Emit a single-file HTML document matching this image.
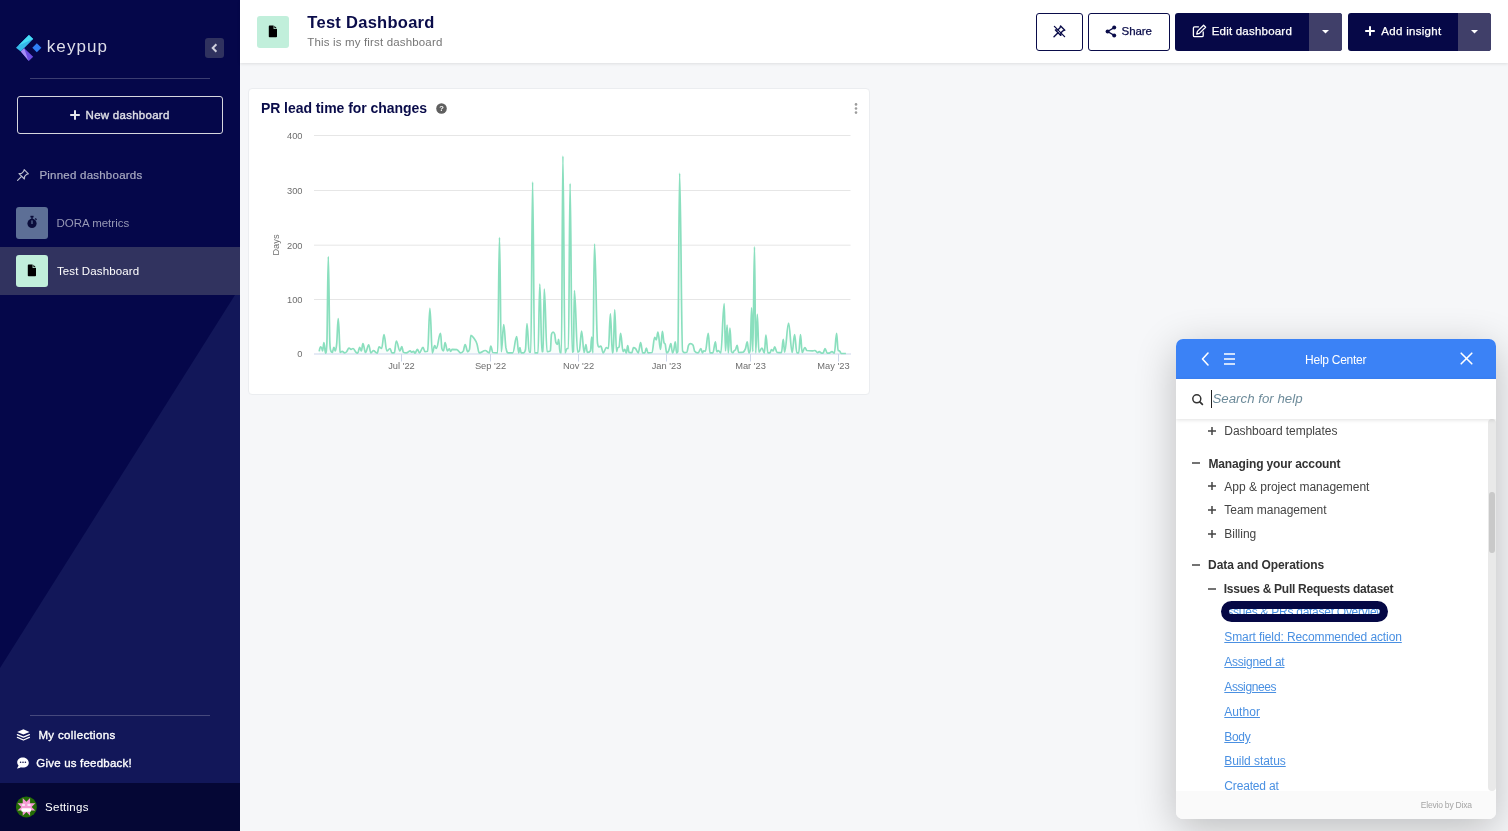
<!DOCTYPE html>
<html lang="en"><head><meta charset="utf-8"><title>Test Dashboard</title>
<style>
*{box-sizing:border-box;margin:0;padding:0}
html,body{width:1508px;height:831px;overflow:hidden}
body{font-family:"Liberation Sans",sans-serif;background:#f6f7f9;position:relative;color:#0a0c4a}
.abs{position:absolute}
.t{position:absolute;white-space:nowrap;line-height:1}
/* sidebar */
#side{position:absolute;left:0;top:0;width:240px;height:831px;background:#05074a;overflow:hidden}
#side .tri{position:absolute;left:0;top:0}
.divider{position:absolute;left:30px;width:180px;height:1px;background:rgba(255,255,255,.22)}
#newdash{position:absolute;left:17px;top:96px;width:206px;height:38px;border:1px solid #d6d6de;border-radius:3px}
.row-sel{position:absolute;left:0;top:247px;width:240px;height:48px;background:#31335f}
.ibox{position:absolute;width:32px;height:32px;border-radius:3px}
#settings{position:absolute;left:0;top:783px;width:240px;height:48px;background:#050735}
/* header */
#head{position:absolute;left:240px;top:0;width:1268px;height:63px;background:#fff;box-shadow:0 1px 3px rgba(0,0,0,.10)}
.btn{position:absolute;top:13px;height:38px;border-radius:3px}
.btn.o{border:1px solid #0a0c4a;background:#fff}
.btn.f{background:#060847}
.btn .dd{position:absolute;right:0;top:0;height:38px;width:33px;background:#403f69;border-radius:0 3px 3px 0}
/* card */
#card{position:absolute;left:248px;top:88px;width:622px;height:307px;background:#fff;border:1px solid #ebedf0;border-radius:4px}
/* help */
#help{position:absolute;left:1176px;top:339px;width:320px;height:480px;background:#fff;border-radius:7px;box-shadow:0 10px 40px rgba(0,0,0,.24);overflow:hidden;font-family:"Liberation Sans",sans-serif}
#help .hh{position:absolute;left:0;top:0;width:320px;height:40px;background:#3b82f6}
#help .search{position:absolute;left:0;top:40px;width:320px;height:40px;background:#fff;box-shadow:0 1px 4px rgba(0,0,0,.12);z-index:2}
#help .foot{position:absolute;left:0;top:452px;width:320px;height:28px;background:#fafafa;z-index:2}
#help .track{position:absolute;left:312px;top:80px;width:8px;height:372px;background:#e9e9e9;border-radius:4px}
#help .thumb{position:absolute;left:313px;top:153px;width:6px;height:61px;background:#c9c9c9;border-radius:3px}
.hl{position:absolute;white-space:nowrap;line-height:1;font-size:12.5px;color:#444}
.hl.b{font-weight:bold;color:#333}
.hl.a{color:#4a90e2;text-decoration:underline}
#logo-t{left:46.8px!important;top:38.00px!important;font-size:17px!important;letter-spacing:1.074px!important}
#nd-t{left:85.6px!important;top:110.00px!important;font-size:11.5px!important;letter-spacing:0.261px!important}
#pin-t{left:39.4px!important;top:170.00px!important;font-size:11.5px!important;letter-spacing:0.231px!important}
#dora-t{left:56.4px!important;top:218.00px!important;font-size:11.5px!important;letter-spacing:-0.004px!important}
#td-t{left:56.9px!important;top:266.00px!important;font-size:11.5px!important;letter-spacing:0.135px!important}
#mc-t{left:38.4px!important;top:730.00px!important;font-size:11.5px!important;letter-spacing:0.352px!important}
#fb-t{left:36.3px!important;top:758.00px!important;font-size:11.5px!important;letter-spacing:0.202px!important}
#st-t{left:45.1px!important;top:802.00px!important;font-size:11.5px!important;letter-spacing:0.248px!important}
#h-title{left:307.3px!important;top:14.00px!important;font-size:16.5px!important;letter-spacing:0.279px!important}
#h-sub{left:307.3px!important;top:37.00px!important;font-size:11.5px!important;letter-spacing:0.159px!important}
#b-share{left:1121.6px!important;top:26.00px!important;font-size:11.5px!important;letter-spacing:-0.097px!important}
#b-edit{left:1211.7px!important;top:26.00px!important;font-size:11.5px!important;letter-spacing:0.210px!important}
#b-add{left:1381.3px!important;top:26.00px!important;font-size:11.5px!important;letter-spacing:0.299px!important}
#c-title{left:260.9px!important;top:101.00px!important;font-size:14px!important;letter-spacing:-0.047px!important}
#hc-t{left:1305.1px!important;top:354.00px!important;font-size:12px!important;letter-spacing:-0.263px!important}
#hs-t{left:1212.5px!important;top:392.00px!important;font-size:13.25px!important;letter-spacing:0.010px!important}
#l1{left:1224.3px!important;top:425.00px!important;font-size:12px!important;letter-spacing:-0.054px!important}
#l2{left:1208.4px!important;top:458.00px!important;font-size:12px!important;letter-spacing:-0.129px!important}
#l3{left:1224.3px!important;top:481.00px!important;font-size:12px!important;letter-spacing:-0.014px!important}
#l4{left:1224.3px!important;top:504.00px!important;font-size:12px!important;letter-spacing:-0.038px!important}
#l5{left:1224.3px!important;top:528.00px!important;font-size:12px!important;letter-spacing:-0.003px!important}
#l6{left:1208.1px!important;top:559.00px!important;font-size:12px!important;letter-spacing:-0.076px!important}
#l7{left:1223.8px!important;top:583.00px!important;font-size:12px!important;letter-spacing:-0.266px!important}
#l8{left:1224.3px!important;top:606.00px!important;font-size:12px!important;letter-spacing:-0.264px!important}
#l9{left:1224.3px!important;top:631.00px!important;font-size:12px!important;letter-spacing:-0.105px!important}
#l10{left:1224.3px!important;top:656.00px!important;font-size:12px!important;letter-spacing:-0.232px!important}
#l11{left:1224.3px!important;top:681.00px!important;font-size:12px!important;letter-spacing:-0.397px!important}
#l12{left:1224.3px!important;top:706.00px!important;font-size:12px!important;letter-spacing:0.048px!important}
#l13{left:1224.3px!important;top:731.00px!important;font-size:12px!important;letter-spacing:-0.320px!important}
#l14{left:1224.3px!important;top:755.00px!important;font-size:12px!important;letter-spacing:-0.050px!important}
#l15{left:1224.3px!important;top:780.00px!important;font-size:12px!important;letter-spacing:-0.161px!important}
#ft-t{left:1420.8px!important;top:801.00px!important;font-size:8.5px!important;letter-spacing:-0.205px!important}
</style></head><body>

<div id="side">
 <svg class="tri" width="240" height="831"><polygon points="240,287 240,783 0,783 0,668" fill="#121759"/></svg>
 <!-- logo -->
 <svg class="abs" style="left:10px;top:28px" width="40" height="40" viewBox="10 28 40 40">
  <polygon points="15.98,47.69 28.96,34.93 33.19,39.09 20.8,51.49" fill="#35b9ea"/>
  <polygon points="28.96,34.93 33.19,39.09 18.4,45.4" fill="#46dcf6"/>
  <polygon points="20.8,51.49 24.22,48.28 33.19,56.81 28.82,60.97" fill="#6c4de2"/>
  <polygon points="20.8,51.49 24.22,48.28 27.6,58.6 28.82,60.97" fill="#a68ef6"/>
  <polygon points="32.32,47.84 36.84,43.32 41.36,47.84 36.84,52.36" fill="#2f80f7"/>
 </svg>
 <div class="t" id="logo-t" style="left:46px;top:36px;font-size:17px;color:#dedee9">keypup</div>
 <div class="abs" style="left:205px;top:38px;width:19px;height:20px;background:#30325f;border-radius:3px">
  <svg class="abs" style="left:0;top:0" width="19" height="20" viewBox="0 0 19 20"><path d="M11.4 6.200 L7.700 10 L11.4 13.800" fill="none" stroke="#cfcfdc" stroke-width="2" stroke-linecap="butt" stroke-linejoin="miter"/></svg>
 </div>
 <div class="divider" style="top:78px"></div>
 <div id="newdash"></div>
 <svg class="abs" style="left:69px;top:109px" width="12" height="12" viewBox="0 0 12 12"><path d="M6 1.2V10.8M1.2 6H10.8" stroke="#e4e4ea" stroke-width="2" fill="none"/></svg>
 <div class="t" id="nd-t" style="left:86px;top:108px;font-size:13px;color:#dedee6;-webkit-text-stroke:.4px #dedee6">New dashboard</div>

 <svg class="abs" style="left:16px;top:168px" width="14" height="14" viewBox="0 0 14 14"><g fill="none" stroke="#b9bbcc" stroke-width="1.2" stroke-linejoin="round" stroke-linecap="round"><path d="M8.2 1.6 L12.4 5.8 L10.6 6.4 L8.6 8.4 L8.4 11 L3 5.6 L5.6 5.4 L7.6 3.4 Z"/><path d="M5.6 8.4 L1.6 12.4"/></g></svg>
 <div class="t" id="pin-t" style="-webkit-text-stroke:.2px #a9abc2;left:39px;top:169px;font-size:13px;color:#a9abc2">Pinned dashboards</div>

 <div class="ibox" style="left:16px;top:207px;background:#5d6f96"></div>
 <svg class="abs" style="left:26px;top:215.400px" width="12" height="14" viewBox="0 0 12 14"><circle cx="6" cy="8.4" r="4.6" fill="#0a0c3a"/><rect x="4.4" y="0.8" width="3.2" height="1.6" fill="#0a0c3a"/><rect x="5.3" y="2" width="1.4" height="2.2" fill="#0a0c3a"/><path d="M9.2 3.6l1.4 1.2" stroke="#0a0c3a" stroke-width="1.3"/><rect x="5.4" y="5.4" width="1.2" height="3.6" fill="#5d6f96"/></svg>
 <div class="t" id="dora-t" style="left:56px;top:217px;font-size:13px;color:#9698b4">DORA metrics</div>

 <div class="row-sel"></div>
 <div class="ibox" style="left:16px;top:255px;background:#c1efdb"></div>
 <svg class="abs" style="left:27px;top:264px" width="10" height="13" viewBox="0 0 10 13"><path d="M0.8 1.4 Q0.8 0.6 1.6 0.6 H5.6 V4 H9 V11.4 Q9 12.2 8.2 12.2 H1.6 Q0.8 12.2 0.8 11.4 Z" fill="#000"/><path d="M6.4 0.8 L8.8 3.2 H6.4 Z" fill="#000"/></svg>
 <div class="t" id="td-t" style="left:56px;top:265px;font-size:13px;color:#fff">Test Dashboard</div>

 <div class="divider" style="top:715px"></div>
 <svg class="abs" style="left:16px;top:728px" width="15" height="14" viewBox="16 728 15 14"><path d="M23.400 729.200 L29.600 731.900 L23.400 734.600 L17.200 731.900 Z" fill="#fff"/><path d="M17.400 734.600 L23.400 737.200 L29.400 734.600 M17.400 737.400 L23.400 740 L29.400 737.400" fill="none" stroke="#fff" stroke-width="1.300" stroke-linejoin="round" stroke-linecap="round"/></svg>
 <div class="t" id="mc-t" style="left:38px;top:729px;font-size:13px;color:#fff;-webkit-text-stroke:.35px #fff">My collections</div>
 <svg class="abs" style="left:16px;top:756px" width="14" height="14" viewBox="0 0 14 14"><path d="M7 1.4C3.6 1.4 1.2 3.5 1.2 6.2c0 1.2.5 2.3 1.300 3.100C2.300 10.500 1.400 11.800 1 12.400c1.500.100 3-.400 3.800-1.100.7.200 1.400.300 2.200.300 3.400 0 5.800-2.100 5.800-4.800S10.400 1.400 7 1.400z" fill="#fff"/><circle cx="4.600" cy="6.300" r=".8" fill="#10154f"/><circle cx="7" cy="6.300" r=".8" fill="#10154f"/><circle cx="9.400" cy="6.300" r=".8" fill="#10154f"/></svg>
 <div class="t" id="fb-t" style="left:36px;top:757px;font-size:13px;color:#fff;-webkit-text-stroke:.35px #fff">Give us feedback!</div>

 <div id="settings"></div>
 <svg class="abs" style="left:14px;top:794px" width="26" height="26" viewBox="14 794 26 26"><circle cx="26.4" cy="806.9" r="10.5" fill="#236c05"/><polygon points="30.07,798.03 30.08,803.22 35.27,803.23 31.60,806.90 35.27,810.57 30.08,810.58 30.07,815.77 26.40,812.10 22.73,815.77 22.72,810.58 17.53,810.57 21.20,806.90 17.53,803.23 22.72,803.22 22.73,798.03 26.40,801.70" fill="#f49ad5"/><rect x="21.4" y="808.2" width="9.7" height="3.6" rx="1" fill="#fff"/><rect x="22.1" y="803.8" width="2.8" height="2.2" fill="#f7e6f2"/><rect x="27.5" y="803.8" width="3" height="2.2" fill="#f7e6f2"/></svg>
 <div class="t" id="st-t" style="left:45px;top:801px;font-size:13px;color:#fff">Settings</div>
</div>

<div id="head"></div>
<div class="ibox" style="left:257px;top:16px;background:#c1efdb"></div>
<svg class="abs" style="left:268px;top:25px" width="10" height="13" viewBox="0 0 10 13"><path d="M0.8 1.4 Q0.8 0.6 1.6 0.6 H5.6 V4 H9 V11.4 Q9 12.2 8.2 12.2 H1.6 Q0.8 12.2 0.8 11.4 Z" fill="#000"/><path d="M6.4 0.8 L8.8 3.2 H6.4 Z" fill="#000"/></svg>
<div class="t" id="h-title" style="left:307px;top:13px;font-size:17.500px;font-weight:bold;color:#0a0c4a">Test Dashboard</div>
<div class="t" id="h-sub" style="left:307px;top:36px;font-size:11.500px;color:#767676">This is my first dashboard</div>

<div class="btn o" style="left:1036px;width:47px"></div>
<svg class="abs" style="left:1052px;top:24px" width="15" height="15" viewBox="0 0 15 15"><g fill="none" stroke="#0a0c4a" stroke-width="1.400" stroke-linejoin="round" stroke-linecap="round"><path d="M8.600 2 L12.800 6.200 L11 6.800 L9 8.800 L8.800 11.400 L3.400 6 L6 5.800 L8 3.800 Z"/><path d="M6 8.800 L2 12.800"/><path d="M2.400 2.400 L12.600 12.600" stroke-width="1.300"/></g></svg>
<div class="btn o" style="left:1088px;width:82px"></div>
<svg class="abs" style="left:1105px;top:25px" width="12" height="13" viewBox="0 0 12 13"><g fill="#0a0c4a"><circle cx="9.200" cy="2.600" r="2"/><circle cx="2.600" cy="6.500" r="2"/><circle cx="9.200" cy="10.400" r="2"/></g><path d="M9.200 2.600 L2.600 6.500 L9.200 10.400" fill="none" stroke="#0a0c4a" stroke-width="1.300"/></svg>
<div class="t" id="b-share" style="-webkit-text-stroke:.25px #0a0c4a;left:1121px;top:25px;font-size:13px;color:#0a0c4a">Share</div>

<div class="btn f" style="left:1175px;width:167px"><div class="dd"></div></div>
<svg class="abs" style="left:1192px;top:24px" width="15" height="14" viewBox="0 0 15 14"><g fill="none" stroke="#fff" stroke-width="1.300" stroke-linejoin="round" stroke-linecap="round"><path d="M6.500 2.800 H2.600 Q1.400 2.800 1.400 4 V11.400 Q1.400 12.600 2.600 12.600 H10 Q11.200 12.600 11.200 11.400 V7.800"/><path d="M11.600 1.200 L13.600 3.200 L7.400 9.400 L4.800 10 L5.400 7.400 Z"/></g></svg>
<div class="t" id="b-edit" style="-webkit-text-stroke:.25px #fff;left:1211px;top:25px;font-size:13px;color:#fff">Edit dashboard</div>
<svg class="abs" style="left:1321px;top:29px" width="9" height="6" viewBox="0 0 9 6"><path d="M1 1 H8 L4.500 4.600 Z" fill="#fff"/></svg>

<div class="btn f" style="left:1348px;width:143px"><div class="dd"></div></div>
<svg class="abs" style="left:1364px;top:25px" width="12" height="12" viewBox="0 0 12 12"><path d="M6 1.200V10.800M1.200 6H10.800" stroke="#fff" stroke-width="2" fill="none"/></svg>
<div class="t" id="b-add" style="-webkit-text-stroke:.25px #fff;left:1381px;top:25px;font-size:13px;color:#fff">Add insight</div>
<svg class="abs" style="left:1470px;top:29px" width="9" height="6" viewBox="0 0 9 6"><path d="M1 1 H8 L4.500 4.600 Z" fill="#fff"/></svg>

<div id="card"></div>
<div class="t" id="c-title" style="left:260px;top:101px;font-size:15px;font-weight:bold;color:#0a0c4a">PR lead time for changes</div>
<svg class="abs" style="left:436px;top:103px" width="11" height="11" viewBox="0 0 11 11"><circle cx="5.500" cy="5.500" r="5.300" fill="#5f5f5f"/><text x="5.500" y="8.300" font-size="7.500" font-weight="bold" fill="#fff" text-anchor="middle" font-family="Liberation Sans, sans-serif">?</text></svg>
<svg class="abs" style="left:853px;top:102px" width="6" height="13" viewBox="0 0 6 13"><g fill="#9c9c9c"><circle cx="3" cy="2.400" r="1.300"/><circle cx="3" cy="6.500" r="1.300"/><circle cx="3" cy="10.600" r="1.300"/></g></svg>

<svg class="abs" id="chart" style="left:249px;top:89px" width="620" height="304" viewBox="249 89 620 304" font-family="Liberation Sans, sans-serif">
 <g stroke="#e6e6e6" stroke-width="1">
  <path d="M314 135.500H850.500M314 190.500H850.500M314 245.200H850.500M314 299.500H850.500"/>
 </g>
 <path d="M314 354H851" stroke="#ccd6eb" stroke-width="1.200"/>
 <path d="M401.500 354V361.500M490.500 354V361.500M578.500 354V361.500M666.500 354V361.500M750.500 354V361.500M838.500 354V361.500" stroke="#ccd6eb" stroke-width="1"/>
 <path d="M319.2 351.3C319.2 351.3 320.0 346.9 320.6 346.9C321.1 346.9 321.3 347.2 321.8 348.1C322.1 348.8 322.3 350.9 322.6 350.9C323.1 350.9 323.4 342.6 323.9 342.6C324.6 342.6 324.9 353.1 325.5 353.1C326.1 353.1 326.3 353.1 326.9 342.9C327.4 332.8 327.7 256.5 328.3 256.5C328.9 256.5 329.3 336.6 329.9 343.7C330.3 350.9 330.5 349.3 330.8 350.9C331.4 352.5 331.7 352.5 332.3 352.5C332.9 352.5 333.2 347.3 333.9 347.3C334.4 347.3 334.7 350.9 335.3 350.9C335.8 350.9 336.1 349.7 336.7 343.7C337.3 336.8 337.6 318.7 338.2 318.7C338.8 318.7 339.1 333.7 339.6 343.7C339.8 347.3 339.9 352.5 340.1 352.5C340.9 352.5 341.4 351.3 342.2 351.3C343.2 351.3 343.7 352.9 344.6 352.9C345.4 352.9 345.8 352.6 346.6 351.7C347.6 350.7 348.0 348.1 349.0 348.1C349.8 348.1 350.2 349.3 351.0 349.3C351.8 349.3 352.2 348.5 353.0 348.5C354.1 348.5 354.6 351.0 355.8 352.1C356.6 352.9 356.9 353.1 357.7 353.1C358.5 353.1 358.9 347.3 359.7 347.3C360.4 347.3 360.7 350.9 361.3 350.9C362.0 350.9 362.3 343.7 362.9 343.7C364.0 343.7 364.5 352.5 365.5 352.5C366.8 352.5 367.5 344.9 368.7 344.9C369.6 344.9 370.0 352.9 370.9 352.9C371.8 352.9 372.3 350.7 373.3 350.7C374.9 350.7 375.6 353.1 377.2 353.1C378.0 353.1 378.3 346.9 379.1 346.9C380.1 346.9 380.6 348.5 381.6 348.5C382.6 348.5 383.1 334.6 384.0 334.6C385.1 334.6 385.7 350.9 386.8 350.9C388.1 350.9 388.7 348.5 390.0 348.5C390.8 348.5 391.2 352.9 392.0 352.9C392.9 352.9 393.4 352.9 394.4 352.7C395.1 352.4 395.5 341.0 396.3 341.0C397.8 341.0 398.5 350.9 399.9 350.9C400.7 350.9 401.0 346.5 401.8 346.5C402.4 346.5 402.7 351.3 403.3 352.1C404.5 352.9 405.1 352.9 406.3 352.9C407.9 352.9 408.7 350.9 410.3 350.9C410.7 350.9 411.0 352.1 411.5 352.1C412.3 352.1 412.7 351.3 413.4 351.3C414.1 351.3 414.4 353.1 415.0 353.1C416.0 353.1 416.5 349.3 417.4 349.3C418.2 349.3 418.6 352.9 419.4 352.9C420.9 352.9 421.6 347.3 423.0 347.3C423.8 347.3 424.2 351.7 424.9 351.7C426.0 351.7 426.5 351.7 427.6 351.3C428.5 350.9 429.0 308.3 429.9 308.3C430.9 308.3 431.4 352.9 432.3 352.9C433.3 352.9 433.8 345.7 434.7 345.7C435.4 345.7 435.7 348.5 436.3 348.5C438.0 348.5 438.8 333.4 440.5 333.4C441.1 333.4 441.3 346.1 441.9 348.5C442.5 350.9 442.8 350.9 443.5 350.9C444.1 350.9 444.4 342.6 445.1 342.6C446.0 342.6 446.5 350.9 447.5 350.9C448.2 350.9 448.6 348.9 449.4 348.9C449.9 348.9 450.2 351.3 450.6 351.3C451.3 351.3 451.6 349.3 452.2 349.3C454.1 349.3 455.1 349.3 457.0 349.7C458.4 350.1 459.2 352.9 460.6 352.9C461.7 352.9 462.3 352.9 463.4 350.9C464.1 348.9 464.4 344.5 465.1 344.5C466.2 344.5 466.7 351.7 467.7 351.7C468.4 351.7 468.8 351.7 469.5 349.3C470.1 346.9 470.4 335.4 470.9 335.4C472.2 335.4 472.8 336.8 474.1 338.6C475.2 340.1 475.8 340.7 476.9 343.7C477.9 346.4 478.3 352.9 479.3 352.9C481.7 352.9 482.9 350.5 485.3 350.5C486.8 350.5 487.6 352.9 489.2 352.9C489.9 352.9 490.2 346.1 490.8 346.1C491.6 346.1 492.0 352.1 492.8 352.5C494.7 352.9 495.7 352.9 497.6 352.9C498.4 352.9 498.7 237.6 499.5 237.6C500.2 237.6 500.6 351.7 501.3 351.7C502.3 351.7 502.8 324.6 503.7 324.6C504.6 324.6 505.1 342.6 505.9 347.7C506.9 352.9 507.4 352.9 508.3 352.9C510.1 352.9 511.0 352.9 512.7 352.9C514.3 352.9 515.1 336.6 516.7 336.6C517.5 336.6 517.9 352.9 518.7 352.9C519.2 352.9 519.4 347.7 519.9 347.7C520.4 347.7 520.7 352.9 521.2 352.9C522.1 352.9 522.6 352.9 523.4 352.9C524.2 352.9 524.6 352.9 525.4 350.1C526.1 347.3 526.4 323.5 527.0 323.5C527.9 323.5 528.3 351.3 529.2 351.7C529.8 352.1 530.1 352.1 530.8 352.1C531.5 352.1 531.9 182.0 532.6 182.0C533.4 182.0 533.8 352.9 534.6 352.9C536.0 352.9 536.6 352.9 538.0 352.9C538.7 352.9 539.1 284.1 539.8 284.1C540.7 284.1 541.1 351.7 541.9 351.7C542.3 351.7 542.5 351.7 542.9 351.3C543.5 350.9 543.7 289.1 544.3 289.1C545.4 289.1 546.0 351.7 547.1 351.7C548.4 351.7 549.0 351.7 550.3 350.9C550.8 350.1 551.0 336.2 551.5 334.2C552.1 332.2 552.4 332.2 553.1 332.2C553.7 332.2 554.0 332.2 554.7 334.2C555.1 336.2 555.4 340.6 555.9 342.6C556.5 344.5 556.8 344.5 557.5 344.5C557.9 344.5 558.2 339.4 558.6 339.4C559.2 339.4 559.5 352.3 560.1 352.5C560.6 352.7 560.9 352.7 561.4 352.7C562.0 352.7 562.3 156.0 562.9 156.0C563.7 156.0 564.2 352.9 565.0 352.9C565.8 352.9 566.2 348.5 567.0 348.5C567.5 348.5 567.8 348.5 568.4 348.5C569.1 348.5 569.4 183.5 570.1 183.5C570.9 183.5 571.3 352.1 572.2 352.1C572.7 352.1 572.9 352.1 573.4 351.3C573.8 350.5 574.0 290.6 574.4 290.6C575.7 290.6 576.4 352.1 577.7 352.1C578.4 352.1 578.7 352.1 579.3 350.9C580.2 349.7 580.7 331.0 581.6 331.0C582.6 331.0 583.1 352.5 584.1 352.5C584.8 352.5 585.2 344.5 585.9 344.5C586.5 344.5 586.8 352.5 587.3 352.5C588.6 352.5 589.2 352.5 590.5 350.9C591.0 349.3 591.2 337.0 591.7 337.0C592.1 337.0 592.4 352.9 592.9 352.9C593.5 352.9 593.8 244.1 594.5 244.1C595.8 244.1 596.4 340.6 597.6 343.7C598.1 346.9 598.4 346.9 598.8 346.9C599.6 346.9 600.0 346.1 600.8 346.1C601.8 346.1 602.3 352.9 603.2 352.9C604.5 352.9 605.1 347.7 606.4 347.7C607.2 347.7 607.6 348.5 608.4 348.5C609.2 348.5 609.6 313.9 610.4 313.9C611.2 313.9 611.6 352.9 612.4 352.9C612.8 352.9 613.1 352.3 613.6 343.7C614.0 335.2 614.3 309.9 614.7 309.9C615.5 309.9 615.8 351.7 616.6 351.7C617.0 351.7 617.2 348.8 617.5 348.1C618.2 346.9 618.5 348.1 619.1 346.9C619.7 345.7 620.0 333.4 620.6 333.4C621.6 333.4 622.1 351.7 623.1 351.7C623.7 351.7 624.1 349.3 624.7 349.3C625.3 349.3 625.6 352.9 626.3 352.9C626.9 352.9 627.1 345.7 627.7 345.7C628.3 345.7 628.5 352.3 629.1 352.5C630.2 352.7 630.7 352.7 631.9 352.7C632.5 352.7 632.8 347.7 633.4 347.7C634.4 347.7 634.9 347.9 635.8 348.9C636.8 350.0 637.3 352.9 638.2 352.9C639.2 352.9 639.7 342.7 640.6 342.7C641.5 342.7 641.9 352.9 642.8 352.9C643.6 352.9 644.0 352.9 644.8 352.9C645.4 352.9 645.7 348.1 646.4 348.1C647.0 348.1 647.3 352.9 648.0 352.9C649.5 352.9 650.3 352.9 651.9 352.5C653.1 352.1 653.6 337.4 654.7 337.4C655.4 337.4 655.7 339.8 656.3 339.8C656.9 339.8 657.3 332.2 657.9 332.2C659.0 332.2 659.5 349.3 660.5 349.3C661.3 349.3 661.7 331.4 662.4 331.4C663.0 331.4 663.3 339.8 663.9 342.2C664.4 344.5 664.7 342.3 665.3 344.5C665.8 346.6 666.1 352.9 666.7 352.9C667.5 352.9 667.9 352.6 668.6 350.9C669.5 349.0 670.0 343.7 670.9 343.7C671.5 343.7 671.8 352.9 672.5 352.9C673.0 352.9 673.3 352.3 673.8 350.1C674.4 347.8 674.7 341.8 675.3 341.8C675.8 341.8 676.1 352.9 676.6 352.9C677.1 352.9 677.3 352.9 677.8 351.7C678.5 350.5 678.9 173.3 679.6 173.3C680.8 173.3 681.4 349.2 682.6 350.9C683.4 352.7 683.8 352.7 684.6 352.7C685.5 352.7 686.0 352.7 686.9 352.1C687.6 351.5 687.9 346.9 688.5 345.3C689.3 343.7 689.7 343.7 690.5 343.7C691.5 343.7 692.0 343.7 692.9 344.9C693.6 346.1 693.9 348.9 694.5 350.9C695.9 352.9 696.7 352.9 698.1 352.9C699.2 352.9 699.8 348.5 700.9 348.5C701.5 348.5 701.8 352.9 702.5 352.9C702.9 352.9 703.2 350.9 703.7 350.9C704.3 350.9 704.6 351.3 705.3 351.3C706.5 351.3 707.1 333.4 708.3 333.4C709.0 333.4 709.3 352.9 710.0 352.9C711.1 352.9 711.7 352.9 712.8 352.9C713.9 352.9 714.4 341.8 715.4 341.8C716.0 341.8 716.2 351.7 716.8 351.7C717.4 351.7 717.7 350.5 718.4 350.5C719.3 350.5 719.8 352.9 720.8 352.9C722.1 352.9 722.8 303.6 724.2 303.6C724.7 303.6 725.0 350.9 725.5 350.9C726.2 350.9 726.5 325.0 727.1 325.0C727.6 325.0 727.9 352.9 728.3 352.9C729.0 352.9 729.3 328.2 729.9 328.2C730.6 328.2 730.9 350.7 731.5 351.7C732.0 352.7 732.2 352.7 732.7 352.7C733.3 352.7 733.7 351.2 734.3 350.5C734.8 350.0 735.0 350.5 735.5 349.7C736.1 348.9 736.4 345.3 737.1 345.3C737.7 345.3 738.0 352.5 738.7 352.5C740.4 352.5 741.3 352.5 743.1 352.1C744.0 351.7 744.5 351.3 745.4 348.9C746.2 347.1 746.5 341.8 747.3 341.8C747.9 341.8 748.2 352.9 748.9 352.9C749.4 352.9 749.7 352.9 750.2 350.1C750.8 347.3 751.0 307.9 751.6 307.9C752.1 307.9 752.3 351.7 752.8 351.7C753.5 351.7 753.8 246.9 754.5 246.9C755.0 246.9 755.2 352.9 755.7 352.9C756.4 352.9 756.7 314.3 757.3 314.3C758.0 314.3 758.3 352.1 758.9 352.1C760.1 352.1 760.7 348.1 761.9 348.1C762.9 348.1 763.4 352.9 764.3 352.9C765.0 352.9 765.3 335.0 765.9 335.0C766.7 335.0 767.1 352.9 767.9 352.9C768.7 352.9 769.1 352.9 769.9 352.9C770.5 352.9 770.8 349.7 771.5 349.7C772.1 349.7 772.4 350.9 773.1 350.9C773.7 350.9 774.0 346.9 774.7 346.9C775.6 346.9 776.1 352.3 777.1 352.5C778.8 352.7 779.7 352.7 781.4 352.7C782.2 352.7 782.5 339.4 783.3 339.4C783.8 339.4 784.1 352.1 784.6 352.1C786.2 352.1 787.0 323.1 788.6 323.1C790.0 323.1 790.7 352.5 792.2 352.5C793.1 352.5 793.6 334.6 794.6 334.6C795.5 334.6 796.0 352.9 796.9 352.9C797.6 352.9 798.0 352.9 798.7 352.9C799.4 352.9 799.8 334.6 800.5 334.6C801.2 334.6 801.5 352.5 802.1 352.5C803.2 352.5 803.8 347.7 804.9 347.7C805.7 347.7 806.1 350.1 806.9 350.5C809.0 350.9 810.0 350.9 812.1 350.9C813.2 350.9 813.7 350.5 814.9 350.5C816.0 350.5 816.5 352.7 817.6 352.7C818.3 352.7 818.6 351.7 819.2 351.7C820.2 351.7 820.7 353.1 821.6 353.1C822.3 353.1 822.6 353.1 823.2 352.9C823.9 352.7 824.3 348.5 825.0 348.5C825.9 348.5 826.3 353.1 827.2 353.1C828.0 353.1 828.4 353.1 829.2 353.1C830.3 353.1 830.8 351.7 832.0 351.7C832.9 351.7 833.4 353.1 834.4 353.1C835.2 353.1 835.7 333.4 836.6 333.4C837.2 333.4 837.5 350.1 838.2 350.5C838.7 350.9 839.0 350.5 839.5 350.9C840.2 351.3 840.5 353.1 841.1 353.3C843.0 353.5 845.9 353.5 845.9 353.5L845.9 353.6L319.2 353.6Z" fill="#8ee0c0" fill-opacity="0.06" stroke="none"/>
 <path d="M319.2 351.3C319.2 351.3 320.0 346.9 320.6 346.9C321.1 346.9 321.3 347.2 321.8 348.1C322.1 348.8 322.3 350.9 322.6 350.9C323.1 350.9 323.4 342.6 323.9 342.6C324.6 342.6 324.9 353.1 325.5 353.1C326.1 353.1 326.3 353.1 326.9 342.9C327.4 332.8 327.7 256.5 328.3 256.5C328.9 256.5 329.3 336.6 329.9 343.7C330.3 350.9 330.5 349.3 330.8 350.9C331.4 352.5 331.7 352.5 332.3 352.5C332.9 352.5 333.2 347.3 333.9 347.3C334.4 347.3 334.7 350.9 335.3 350.9C335.8 350.9 336.1 349.7 336.7 343.7C337.3 336.8 337.6 318.7 338.2 318.7C338.8 318.7 339.1 333.7 339.6 343.7C339.8 347.3 339.9 352.5 340.1 352.5C340.9 352.5 341.4 351.3 342.2 351.3C343.2 351.3 343.7 352.9 344.6 352.9C345.4 352.9 345.8 352.6 346.6 351.7C347.6 350.7 348.0 348.1 349.0 348.1C349.8 348.1 350.2 349.3 351.0 349.3C351.8 349.3 352.2 348.5 353.0 348.5C354.1 348.5 354.6 351.0 355.8 352.1C356.6 352.9 356.9 353.1 357.7 353.1C358.5 353.1 358.9 347.3 359.7 347.3C360.4 347.3 360.7 350.9 361.3 350.9C362.0 350.9 362.3 343.7 362.9 343.7C364.0 343.7 364.5 352.5 365.5 352.5C366.8 352.5 367.5 344.9 368.7 344.9C369.6 344.9 370.0 352.9 370.9 352.9C371.8 352.9 372.3 350.7 373.3 350.7C374.9 350.7 375.6 353.1 377.2 353.1C378.0 353.1 378.3 346.9 379.1 346.9C380.1 346.9 380.6 348.5 381.6 348.5C382.6 348.5 383.1 334.6 384.0 334.6C385.1 334.6 385.7 350.9 386.8 350.9C388.1 350.9 388.7 348.5 390.0 348.5C390.8 348.5 391.2 352.9 392.0 352.9C392.9 352.9 393.4 352.9 394.4 352.7C395.1 352.4 395.5 341.0 396.3 341.0C397.8 341.0 398.5 350.9 399.9 350.9C400.7 350.9 401.0 346.5 401.8 346.5C402.4 346.5 402.7 351.3 403.3 352.1C404.5 352.9 405.1 352.9 406.3 352.9C407.9 352.9 408.7 350.9 410.3 350.9C410.7 350.9 411.0 352.1 411.5 352.1C412.3 352.1 412.7 351.3 413.4 351.3C414.1 351.3 414.4 353.1 415.0 353.1C416.0 353.1 416.5 349.3 417.4 349.3C418.2 349.3 418.6 352.9 419.4 352.9C420.9 352.9 421.6 347.3 423.0 347.3C423.8 347.3 424.2 351.7 424.9 351.7C426.0 351.7 426.5 351.7 427.6 351.3C428.5 350.9 429.0 308.3 429.9 308.3C430.9 308.3 431.4 352.9 432.3 352.9C433.3 352.9 433.8 345.7 434.7 345.7C435.4 345.7 435.7 348.5 436.3 348.5C438.0 348.5 438.8 333.4 440.5 333.4C441.1 333.4 441.3 346.1 441.9 348.5C442.5 350.9 442.8 350.9 443.5 350.9C444.1 350.9 444.4 342.6 445.1 342.6C446.0 342.6 446.5 350.9 447.5 350.9C448.2 350.9 448.6 348.9 449.4 348.9C449.9 348.9 450.2 351.3 450.6 351.3C451.3 351.3 451.6 349.3 452.2 349.3C454.1 349.3 455.1 349.3 457.0 349.7C458.4 350.1 459.2 352.9 460.6 352.9C461.7 352.9 462.3 352.9 463.4 350.9C464.1 348.9 464.4 344.5 465.1 344.5C466.2 344.5 466.7 351.7 467.7 351.7C468.4 351.7 468.8 351.7 469.5 349.3C470.1 346.9 470.4 335.4 470.9 335.4C472.2 335.4 472.8 336.8 474.1 338.6C475.2 340.1 475.8 340.7 476.9 343.7C477.9 346.4 478.3 352.9 479.3 352.9C481.7 352.9 482.9 350.5 485.3 350.5C486.8 350.5 487.6 352.9 489.2 352.9C489.9 352.9 490.2 346.1 490.8 346.1C491.6 346.1 492.0 352.1 492.8 352.5C494.7 352.9 495.7 352.9 497.6 352.9C498.4 352.9 498.7 237.6 499.5 237.6C500.2 237.6 500.6 351.7 501.3 351.7C502.3 351.7 502.8 324.6 503.7 324.6C504.6 324.6 505.1 342.6 505.9 347.7C506.9 352.9 507.4 352.9 508.3 352.9C510.1 352.9 511.0 352.9 512.7 352.9C514.3 352.9 515.1 336.6 516.7 336.6C517.5 336.6 517.9 352.9 518.7 352.9C519.2 352.9 519.4 347.7 519.9 347.7C520.4 347.7 520.7 352.9 521.2 352.9C522.1 352.9 522.6 352.9 523.4 352.9C524.2 352.9 524.6 352.9 525.4 350.1C526.1 347.3 526.4 323.5 527.0 323.5C527.9 323.5 528.3 351.3 529.2 351.7C529.8 352.1 530.1 352.1 530.8 352.1C531.5 352.1 531.9 182.0 532.6 182.0C533.4 182.0 533.8 352.9 534.6 352.9C536.0 352.9 536.6 352.9 538.0 352.9C538.7 352.9 539.1 284.1 539.8 284.1C540.7 284.1 541.1 351.7 541.9 351.7C542.3 351.7 542.5 351.7 542.9 351.3C543.5 350.9 543.7 289.1 544.3 289.1C545.4 289.1 546.0 351.7 547.1 351.7C548.4 351.7 549.0 351.7 550.3 350.9C550.8 350.1 551.0 336.2 551.5 334.2C552.1 332.2 552.4 332.2 553.1 332.2C553.7 332.2 554.0 332.2 554.7 334.2C555.1 336.2 555.4 340.6 555.9 342.6C556.5 344.5 556.8 344.5 557.5 344.5C557.9 344.5 558.2 339.4 558.6 339.4C559.2 339.4 559.5 352.3 560.1 352.5C560.6 352.7 560.9 352.7 561.4 352.7C562.0 352.7 562.3 156.0 562.9 156.0C563.7 156.0 564.2 352.9 565.0 352.9C565.8 352.9 566.2 348.5 567.0 348.5C567.5 348.5 567.8 348.5 568.4 348.5C569.1 348.5 569.4 183.5 570.1 183.5C570.9 183.5 571.3 352.1 572.2 352.1C572.7 352.1 572.9 352.1 573.4 351.3C573.8 350.5 574.0 290.6 574.4 290.6C575.7 290.6 576.4 352.1 577.7 352.1C578.4 352.1 578.7 352.1 579.3 350.9C580.2 349.7 580.7 331.0 581.6 331.0C582.6 331.0 583.1 352.5 584.1 352.5C584.8 352.5 585.2 344.5 585.9 344.5C586.5 344.5 586.8 352.5 587.3 352.5C588.6 352.5 589.2 352.5 590.5 350.9C591.0 349.3 591.2 337.0 591.7 337.0C592.1 337.0 592.4 352.9 592.9 352.9C593.5 352.9 593.8 244.1 594.5 244.1C595.8 244.1 596.4 340.6 597.6 343.7C598.1 346.9 598.4 346.9 598.8 346.9C599.6 346.9 600.0 346.1 600.8 346.1C601.8 346.1 602.3 352.9 603.2 352.9C604.5 352.9 605.1 347.7 606.4 347.7C607.2 347.7 607.6 348.5 608.4 348.5C609.2 348.5 609.6 313.9 610.4 313.9C611.2 313.9 611.6 352.9 612.4 352.9C612.8 352.9 613.1 352.3 613.6 343.7C614.0 335.2 614.3 309.9 614.7 309.9C615.5 309.9 615.8 351.7 616.6 351.7C617.0 351.7 617.2 348.8 617.5 348.1C618.2 346.9 618.5 348.1 619.1 346.9C619.7 345.7 620.0 333.4 620.6 333.4C621.6 333.4 622.1 351.7 623.1 351.7C623.7 351.7 624.1 349.3 624.7 349.3C625.3 349.3 625.6 352.9 626.3 352.9C626.9 352.9 627.1 345.7 627.7 345.7C628.3 345.7 628.5 352.3 629.1 352.5C630.2 352.7 630.7 352.7 631.9 352.7C632.5 352.7 632.8 347.7 633.4 347.7C634.4 347.7 634.9 347.9 635.8 348.9C636.8 350.0 637.3 352.9 638.2 352.9C639.2 352.9 639.7 342.7 640.6 342.7C641.5 342.7 641.9 352.9 642.8 352.9C643.6 352.9 644.0 352.9 644.8 352.9C645.4 352.9 645.7 348.1 646.4 348.1C647.0 348.1 647.3 352.9 648.0 352.9C649.5 352.9 650.3 352.9 651.9 352.5C653.1 352.1 653.6 337.4 654.7 337.4C655.4 337.4 655.7 339.8 656.3 339.8C656.9 339.8 657.3 332.2 657.9 332.2C659.0 332.2 659.5 349.3 660.5 349.3C661.3 349.3 661.7 331.4 662.4 331.4C663.0 331.4 663.3 339.8 663.9 342.2C664.4 344.5 664.7 342.3 665.3 344.5C665.8 346.6 666.1 352.9 666.7 352.9C667.5 352.9 667.9 352.6 668.6 350.9C669.5 349.0 670.0 343.7 670.9 343.7C671.5 343.7 671.8 352.9 672.5 352.9C673.0 352.9 673.3 352.3 673.8 350.1C674.4 347.8 674.7 341.8 675.3 341.8C675.8 341.8 676.1 352.9 676.6 352.9C677.1 352.9 677.3 352.9 677.8 351.7C678.5 350.5 678.9 173.3 679.6 173.3C680.8 173.3 681.4 349.2 682.6 350.9C683.4 352.7 683.8 352.7 684.6 352.7C685.5 352.7 686.0 352.7 686.9 352.1C687.6 351.5 687.9 346.9 688.5 345.3C689.3 343.7 689.7 343.7 690.5 343.7C691.5 343.7 692.0 343.7 692.9 344.9C693.6 346.1 693.9 348.9 694.5 350.9C695.9 352.9 696.7 352.9 698.1 352.9C699.2 352.9 699.8 348.5 700.9 348.5C701.5 348.5 701.8 352.9 702.5 352.9C702.9 352.9 703.2 350.9 703.7 350.9C704.3 350.9 704.6 351.3 705.3 351.3C706.5 351.3 707.1 333.4 708.3 333.4C709.0 333.4 709.3 352.9 710.0 352.9C711.1 352.9 711.7 352.9 712.8 352.9C713.9 352.9 714.4 341.8 715.4 341.8C716.0 341.8 716.2 351.7 716.8 351.7C717.4 351.7 717.7 350.5 718.4 350.5C719.3 350.5 719.8 352.9 720.8 352.9C722.1 352.9 722.8 303.6 724.2 303.6C724.7 303.6 725.0 350.9 725.5 350.9C726.2 350.9 726.5 325.0 727.1 325.0C727.6 325.0 727.9 352.9 728.3 352.9C729.0 352.9 729.3 328.2 729.9 328.2C730.6 328.2 730.9 350.7 731.5 351.7C732.0 352.7 732.2 352.7 732.7 352.7C733.3 352.7 733.7 351.2 734.3 350.5C734.8 350.0 735.0 350.5 735.5 349.7C736.1 348.9 736.4 345.3 737.1 345.3C737.7 345.3 738.0 352.5 738.7 352.5C740.4 352.5 741.3 352.5 743.1 352.1C744.0 351.7 744.5 351.3 745.4 348.9C746.2 347.1 746.5 341.8 747.3 341.8C747.9 341.8 748.2 352.9 748.9 352.9C749.4 352.9 749.7 352.9 750.2 350.1C750.8 347.3 751.0 307.9 751.6 307.9C752.1 307.9 752.3 351.7 752.8 351.7C753.5 351.7 753.8 246.9 754.5 246.9C755.0 246.9 755.2 352.9 755.7 352.9C756.4 352.9 756.7 314.3 757.3 314.3C758.0 314.3 758.3 352.1 758.9 352.1C760.1 352.1 760.7 348.1 761.9 348.1C762.9 348.1 763.4 352.9 764.3 352.9C765.0 352.9 765.3 335.0 765.9 335.0C766.7 335.0 767.1 352.9 767.9 352.9C768.7 352.9 769.1 352.9 769.9 352.9C770.5 352.9 770.8 349.7 771.5 349.7C772.1 349.7 772.4 350.9 773.1 350.9C773.7 350.9 774.0 346.9 774.7 346.9C775.6 346.9 776.1 352.3 777.1 352.5C778.8 352.7 779.7 352.7 781.4 352.7C782.2 352.7 782.5 339.4 783.3 339.4C783.8 339.4 784.1 352.1 784.6 352.1C786.2 352.1 787.0 323.1 788.6 323.1C790.0 323.1 790.7 352.5 792.2 352.5C793.1 352.5 793.6 334.6 794.6 334.6C795.5 334.6 796.0 352.9 796.9 352.9C797.6 352.9 798.0 352.9 798.7 352.9C799.4 352.9 799.8 334.6 800.5 334.6C801.2 334.6 801.5 352.5 802.1 352.5C803.2 352.5 803.8 347.7 804.9 347.7C805.7 347.7 806.1 350.1 806.9 350.5C809.0 350.9 810.0 350.9 812.1 350.9C813.2 350.9 813.7 350.5 814.9 350.5C816.0 350.5 816.5 352.7 817.6 352.7C818.3 352.7 818.6 351.7 819.2 351.7C820.2 351.7 820.7 353.1 821.6 353.1C822.3 353.1 822.6 353.1 823.2 352.9C823.9 352.7 824.3 348.5 825.0 348.5C825.9 348.5 826.3 353.1 827.2 353.1C828.0 353.1 828.4 353.1 829.2 353.1C830.3 353.1 830.8 351.7 832.0 351.7C832.9 351.7 833.4 353.1 834.4 353.1C835.2 353.1 835.7 333.4 836.6 333.4C837.2 333.4 837.5 350.1 838.2 350.5C838.7 350.9 839.0 350.5 839.5 350.9C840.2 351.3 840.5 353.1 841.1 353.3C843.0 353.5 845.9 353.5 845.9 353.5" fill="none" stroke="#8adfbe" stroke-width="1.700" stroke-linejoin="round"/>
 <g font-size="9.300" fill="#6e6e6e" text-anchor="end">
  <text x="302.500" y="138.800">400</text><text x="302.500" y="193.800">300</text><text x="302.500" y="248.500">200</text><text x="302.500" y="302.800">100</text><text x="302.500" y="357.300">0</text>
 </g>
 <g font-size="9.300" fill="#6e6e6e" text-anchor="middle">
  <text x="401.500" y="369">Jul '22</text><text x="490.500" y="369">Sep '22</text><text x="578.500" y="369">Nov '22</text><text x="666.500" y="369">Jan '23</text><text x="750.500" y="369">Mar '23</text><text x="833.500" y="369">May '23</text>
 </g>
 <text x="279" y="245" font-size="9.300" fill="#6e6e6e" text-anchor="middle" transform="rotate(-90 279 245)">Days</text>
</svg>

<div id="help">
 <div class="hh"></div>
 <div class="search"></div>
 <div class="track"></div><div class="thumb"></div>
 <div class="foot"></div>
</div>
<!-- help overlay content positioned in page coords -->
<div id="helpc" style="position:absolute;left:0;top:0;width:1508px;height:831px;z-index:5;pointer-events:none">
 <svg class="abs" style="left:1199px;top:351px" width="12" height="16" viewBox="0 0 12 16"><path d="M9 2 L3.500 8 L9 14" fill="none" stroke="#fff" stroke-width="1.600" stroke-linecap="round" stroke-linejoin="round"/></svg>
 <svg class="abs" style="left:1223px;top:352px" width="13" height="14" viewBox="0 0 13 14"><path d="M1 2H12M1 7H12M1 12H12" stroke="#fff" stroke-width="1.500"/></svg>
 <div class="t" id="hc-t" style="left:1305px;top:352px;font-size:13px;color:#fff">Help Center</div>
 <svg class="abs" style="left:1460px;top:352px" width="13" height="13" viewBox="0 0 13 13"><path d="M1.200 1.200L11.800 11.800M11.800 1.200L1.200 11.800" stroke="#fff" stroke-width="1.600" stroke-linecap="round"/></svg>
 <svg class="abs" style="left:1191px;top:393px" width="13" height="13" viewBox="0 0 13 13"><circle cx="5.800" cy="5.800" r="4" fill="none" stroke="#333" stroke-width="1.500"/><path d="M8.800 8.800L11.400 11.400" stroke="#333" stroke-width="1.700" stroke-linecap="round"/></svg>
 <div class="abs" style="left:1211px;top:390px;width:1px;height:18px;background:#222"></div>
 <div class="t" id="hs-t" style="left:1213px;top:391px;font-size:14px;color:#6d8b9a;font-style:italic">Search for help</div>

 <!-- list -->
 <svg class="abs" style="left:1207px;top:426px" width="10" height="10" viewBox="0 0 10 10"><path d="M5 1V9M1 5H9" stroke="#444" stroke-width="1.500"/></svg>
 <div class="hl" id="l1" style="left:1224px;top:425px">Dashboard templates</div>
 <svg class="abs" style="left:1191px;top:458px" width="10" height="10" viewBox="0 0 10 10"><path d="M1 5H9" stroke="#444" stroke-width="1.500"/></svg>
 <div class="hl b" id="l2" style="left:1208px;top:457px">Managing your account</div>
 <svg class="abs" style="left:1207px;top:481px" width="10" height="10" viewBox="0 0 10 10"><path d="M5 1V9M1 5H9" stroke="#444" stroke-width="1.500"/></svg>
 <div class="hl" id="l3" style="left:1224px;top:480px">App &amp; project management</div>
 <svg class="abs" style="left:1207px;top:505px" width="10" height="10" viewBox="0 0 10 10"><path d="M5 1V9M1 5H9" stroke="#444" stroke-width="1.500"/></svg>
 <div class="hl" id="l4" style="left:1224px;top:504px">Team management</div>
 <svg class="abs" style="left:1207px;top:529px" width="10" height="10" viewBox="0 0 10 10"><path d="M5 1V9M1 5H9" stroke="#444" stroke-width="1.500"/></svg>
 <div class="hl" id="l5" style="left:1224px;top:528px">Billing</div>
 <svg class="abs" style="left:1191px;top:560px" width="10" height="10" viewBox="0 0 10 10"><path d="M1 5H9" stroke="#444" stroke-width="1.500"/></svg>
 <div class="hl b" id="l6" style="left:1208px;top:559px">Data and Operations</div>
 <svg class="abs" style="left:1207px;top:584px" width="10" height="10" viewBox="0 0 10 10"><path d="M1 5H9" stroke="#444" stroke-width="1.500"/></svg>
 <div class="hl b" id="l7" style="left:1224px;top:583px">Issues &amp; Pull Requests dataset</div>
 <div class="hl a" id="l8" style="left:1224px;top:606px">Issues &amp; PRs dataset Overview</div>
 <div class="abs" style="left:1221px;top:601px;width:167px;height:21px;border:8px solid #050845;border-radius:11px"></div>
 <div class="hl a" id="l9" style="left:1224px;top:631px">Smart field: Recommended action</div>
 <div class="hl a" id="l10" style="left:1224px;top:656px">Assigned at</div>
 <div class="hl a" id="l11" style="left:1224px;top:681px">Assignees</div>
 <div class="hl a" id="l12" style="left:1224px;top:706px">Author</div>
 <div class="hl a" id="l13" style="left:1224px;top:731px">Body</div>
 <div class="hl a" id="l14" style="left:1224px;top:755px">Build status</div>
 <div class="hl a" id="l15" style="left:1224px;top:780px">Created at</div>
 <div class="abs" style="left:1176px;top:791px;width:312px;height:6px;background:#fafafa"></div>
 <div class="t" id="ft-t" style="left:1420px;top:801px;font-size:9px;color:#a5a5a5">Elevio by Dixa</div>
</div>
</body></html>
